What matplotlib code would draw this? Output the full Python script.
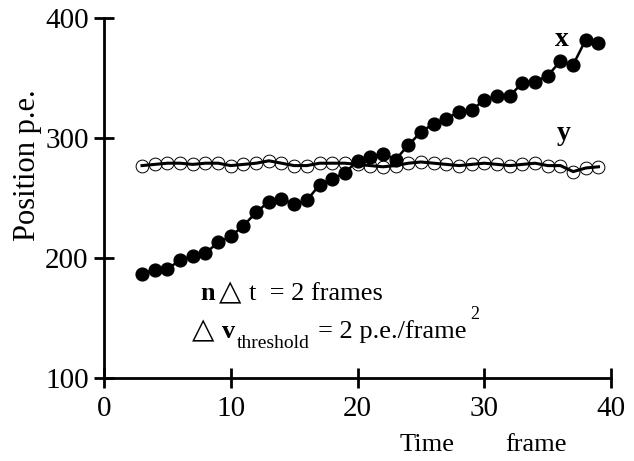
import matplotlib.pyplot as plt

# frame numbers and positions (p.e.)
frames = list(range(3, 40))
pos_x = [187, 190, 191, 198, 202, 204, 213, 218, 227, 238, 247, 249, 245, 248,
         261, 266, 271, 281, 284, 287, 282, 294, 305, 312, 316, 322, 323, 332,
         335, 335, 346, 347, 352, 364, 361, 382, 379]
pos_y = [277, 278, 279, 279, 278, 279, 279, 277, 278, 279, 281, 279, 277, 277,
         279, 279, 279, 278, 277, 276, 277, 279, 280, 279, 278, 277, 278, 279,
         278, 277, 278, 279, 277, 277, 272, 275, 276]

x_ticks = [0, 10, 20, 30, 40]
y_ticks = [100, 200, 300, 400]

SERIF = "Liberation Serif"
FONT = [SERIF, "DejaVu Sans"]


def main():
    fig = plt.figure(figsize=(6.34, 4.61), dpi=100)
    ax = fig.add_axes([0.164, 0.180, 0.800, 0.781])

    ax.plot(frames, pos_y, color="black", lw=2.2, zorder=2)
    ax.plot(frames, pos_y, ls="none", marker="o", ms=9.2, mfc="none",
            mec="black", mew=0.7, zorder=3)
    ax.plot(frames, pos_x, color="black", lw=1.8, marker="o", ms=9.2,
            mfc="black", mec="black", zorder=4)

    ax.set_xlim(0, 40)
    ax.set_ylim(100, 400)
    ax.set_xticks(x_ticks)
    ax.set_yticks(y_ticks)
    for spine in ("top", "right"):
        ax.spines[spine].set_visible(False)
    for spine in ("left", "bottom"):
        ax.spines[spine].set_linewidth(2)
    ax.tick_params(direction="inout", length=14, width=2, labelsize=21)
    ax.tick_params(axis="x", pad=6)
    ax.tick_params(axis="y", pad=4)
    for lbl in ax.get_xticklabels() + ax.get_yticklabels():
        lbl.set_fontfamily(SERIF)

    # series labels
    ax.text(35.6, 377, "x", fontsize=20, fontweight="bold", family=FONT, va="baseline")
    ax.text(35.7, 298, "y", fontsize=20, fontweight="bold", family=FONT, va="baseline")

    # annotation, first line
    ax.text(7.6, 165, "n", fontsize=19, fontweight="bold", family=FONT, va="baseline")
    ax.text(9.1, 165, "\u25b3", fontsize=21, family=["DejaVu Sans"], va="baseline")
    ax.text(11.4, 165, "t  = 2 frames", fontsize=19, family=FONT, va="baseline")

    # annotation, second line
    ax.text(6.9, 133, "\u25b3", fontsize=21, family=["DejaVu Sans"], va="baseline")
    ax.text(9.3, 133, "v", fontsize=19, fontweight="bold", family=FONT, va="baseline")
    ax.text(10.5, 125, "threshold", fontsize=14, family=FONT, va="baseline")
    ax.text(16.9, 133, "= 2 p.e./frame", fontsize=19, family=FONT, va="baseline")
    ax.text(28.9, 149, "2", fontsize=13, family=FONT, va="baseline")

    fig.text(0.043, 0.642, "Position p.e.", rotation=90, fontsize=22,
             family=FONT, ha="center", va="center")
    fig.text(0.631, 0.035, "Time", fontsize=19, family=FONT, va="center")
    fig.text(0.797, 0.035, "frame", fontsize=19, family=FONT, va="center")

    fig.savefig("out.png", dpi=100)


if __name__ == "__main__":
    main()
